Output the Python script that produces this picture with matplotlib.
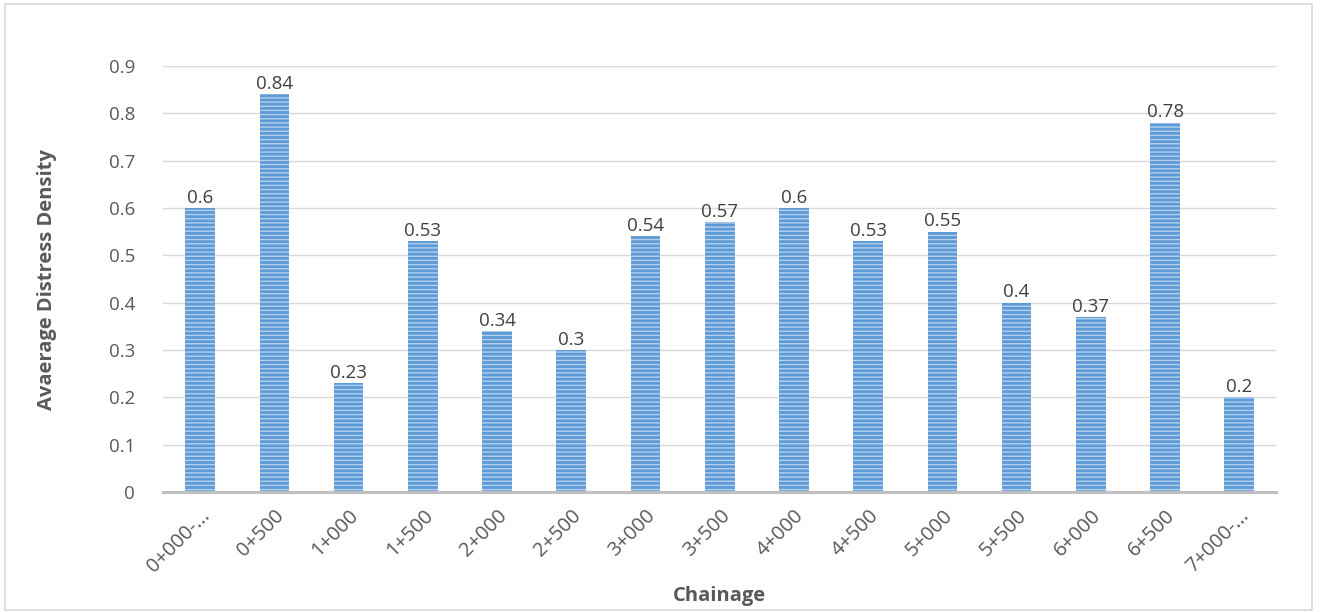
import matplotlib.pyplot as plt
from matplotlib.patches import Rectangle
import numpy as np

plt.rcParams['font.family'] = ['Open Sans', 'DejaVu Sans']
plt.rcParams['hatch.linewidth'] = 1.0

# Chainage sections and average distress density
chainage = ["0+000-...", "0+500", "1+000", "1+500", "2+000", "2+500", "3+000",
            "3+500", "4+000", "4+500", "5+000", "5+500", "6+000", "6+500", "7+000-..."]
density = [0.6, 0.84, 0.23, 0.53, 0.34, 0.3, 0.54, 0.57, 0.6, 0.53, 0.55, 0.4,
           0.37, 0.78, 0.2]

text_col = "#595959"

fig = plt.figure(figsize=(13.2, 6.12), dpi=100)
ax = fig.add_axes([0.1235, 0.196, 0.8435, 0.696])

x = np.arange(len(chainage))
bars = ax.bar(x, density, width=0.4, color="#5e9ad6", edgecolor="#b3d1ee",
              hatch="----", linewidth=0, zorder=3)
for b, v in zip(bars, density):
    ax.text(b.get_x() + b.get_width() / 2, v + 0.003, f"{v:g}", ha="center",
            va="bottom", fontsize=13.5, color="#404040", zorder=4)

ax.set_xlim(-0.5, len(chainage) - 0.5)
ax.set_ylim(0, 0.9)
yt = np.round(np.arange(0, 0.91, 0.1), 1)
ax.set_yticks(yt)
ax.set_yticklabels([f"{t:g}" for t in yt])
ax.set_xticks(x)
ax.set_xticklabels(chainage, rotation=45, ha="right", rotation_mode="anchor")
ax.tick_params(axis="both", length=0, labelsize=13.5, labelcolor=text_col)
ax.tick_params(axis="x", labelsize=14.5, pad=10)
ax.tick_params(axis="y", pad=20)
ax.grid(axis="y", color="#d9d9d9", linewidth=1, zorder=0)
for s in ["top", "right", "left"]:
    ax.spines[s].set_visible(False)
ax.spines["bottom"].set_color("#bfbfbf")
ax.spines["bottom"].set_linewidth(2.2)
ax.spines["bottom"].set_zorder(5)

ax.set_ylabel("Avaerage Distress Density", fontsize=14.5, fontweight="bold",
              color=text_col)
ax.set_xlabel("Chainage", fontsize=14.5, fontweight="bold", color=text_col)
ax.yaxis.set_label_coords(-0.095, 0.5)
ax.xaxis.set_label_coords(0.5, -0.22)

# light frame around the chart area
fig.patches.append(Rectangle((0.004, 0.004), 0.99, 0.989, transform=fig.transFigure,
                             fill=False, edgecolor="#d9d9d9", linewidth=1.2))

fig.savefig("out.png", dpi=100)
